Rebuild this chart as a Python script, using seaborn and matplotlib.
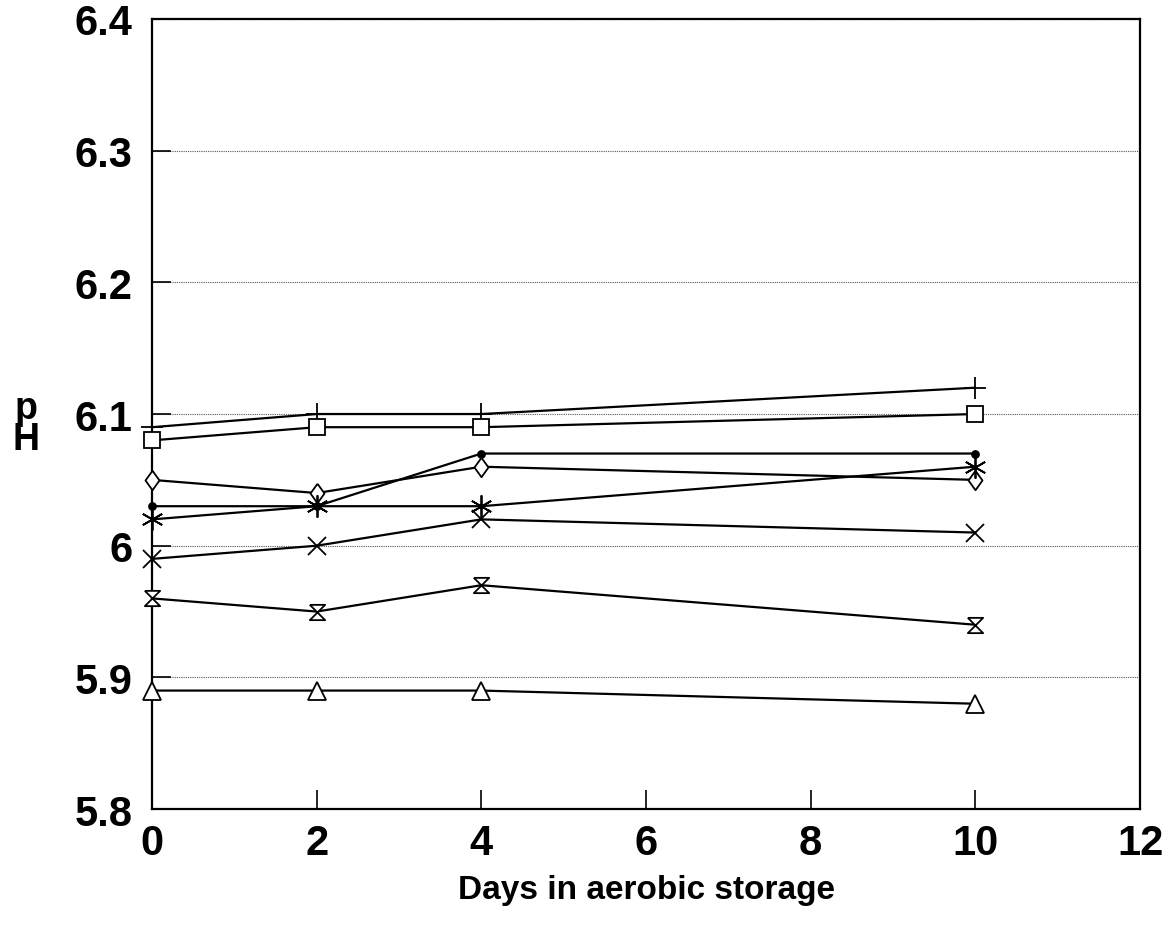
import numpy as np
import pandas as pd
import matplotlib
matplotlib.use("Agg")
import matplotlib.pyplot as plt
import seaborn as sns

# days sampled
days = [0, 2, 4, 10]

# pH readings per treatment
ph_plus = [6.09, 6.10, 6.10, 6.12]
ph_square = [6.08, 6.09, 6.09, 6.10]
ph_dot = [6.03, 6.03, 6.07, 6.07]
ph_diamond = [6.05, 6.04, 6.06, 6.05]
ph_star = [6.02, 6.03, 6.03, 6.06]
ph_cross = [5.99, 6.00, 6.02, 6.01]
ph_hourglass = [5.96, 5.95, 5.97, 5.94]
ph_triangle = [5.89, 5.89, 5.89, 5.88]

x_ticks = [0, 2, 4, 6, 8, 10, 12]
y_ticks = [5.8, 5.9, 6.0, 6.1, 6.2, 6.3, 6.4]
y_tick_labels = ["5.8", "5.9", "6", "6.1", "6.2", "6.3", "6.4"]

sns.set_theme(style="white")
plt.rcParams["font.family"] = ["Liberation Sans", "DejaVu Sans"]
plt.rcParams["text.color"] = "black"
plt.rcParams["xtick.color"] = "black"
plt.rcParams["ytick.color"] = "black"

hourglass = [(-1, 1), (1, 1), (-1, -1), (1, -1), (-1, 1)]
diamond = [(0, 1), (0.72, 0), (0, -1), (-0.72, 0), (0, 1)]

# (values, marker, size)
series = [
    (ph_plus, "+", 16),
    (ph_square, "s", 12),
    (ph_dot, "o", 5),
    (ph_diamond, diamond, 14),
    (ph_star, (6, 2, 0), 16),
    (ph_cross, "x", 13),
    (ph_hourglass, hourglass, 11),
    (ph_triangle, "^", 13),
]

fig = plt.figure(figsize=(11.72, 9.29), dpi=100)
ax = fig.add_axes([0.1297, 0.128, 0.843, 0.8505])

for vals, mk, ms in series:
    df = pd.DataFrame({"day": days, "ph": vals})
    filled = mk == "o"
    sns.lineplot(data=df, x="day", y="ph", ax=ax, color="black", linewidth=1.6,
                 marker=mk, markersize=ms, markeredgewidth=1.3,
                 markerfacecolor="black" if filled else "white",
                 markeredgecolor="black", zorder=3, clip_on=False)

ax.set_xlim(0, 12)
ax.set_ylim(5.8, 6.4)
ax.set_xticks(x_ticks)
ax.set_yticks(y_ticks)
ax.set_yticklabels(y_tick_labels)
ax.yaxis.grid(True, linestyle=(0, (1, 1)), color="#555555", linewidth=0.8)
ax.xaxis.grid(False)
ax.tick_params(axis="both", direction="in", length=14, width=1.2, color="black",
               labelsize=30, labelcolor="black", bottom=True, left=True)
ax.tick_params(axis="y", pad=14)
ax.tick_params(axis="x", pad=10)
for lab in ax.get_xticklabels() + ax.get_yticklabels():
    lab.set_fontweight("bold")
for sp in ax.spines.values():
    sp.set_color("black")
    sp.set_linewidth(1.6)

ax.set_xlabel("Days in aerobic storage", fontsize=24, fontweight="bold",
              labelpad=8, color="black")
ax.set_ylabel("")
fig.text(0.022, 0.543, "p\nH", fontsize=27, fontweight="bold", ha="center",
         va="center", linespacing=0.8, color="black")

fig.savefig("out.png", dpi=100)
